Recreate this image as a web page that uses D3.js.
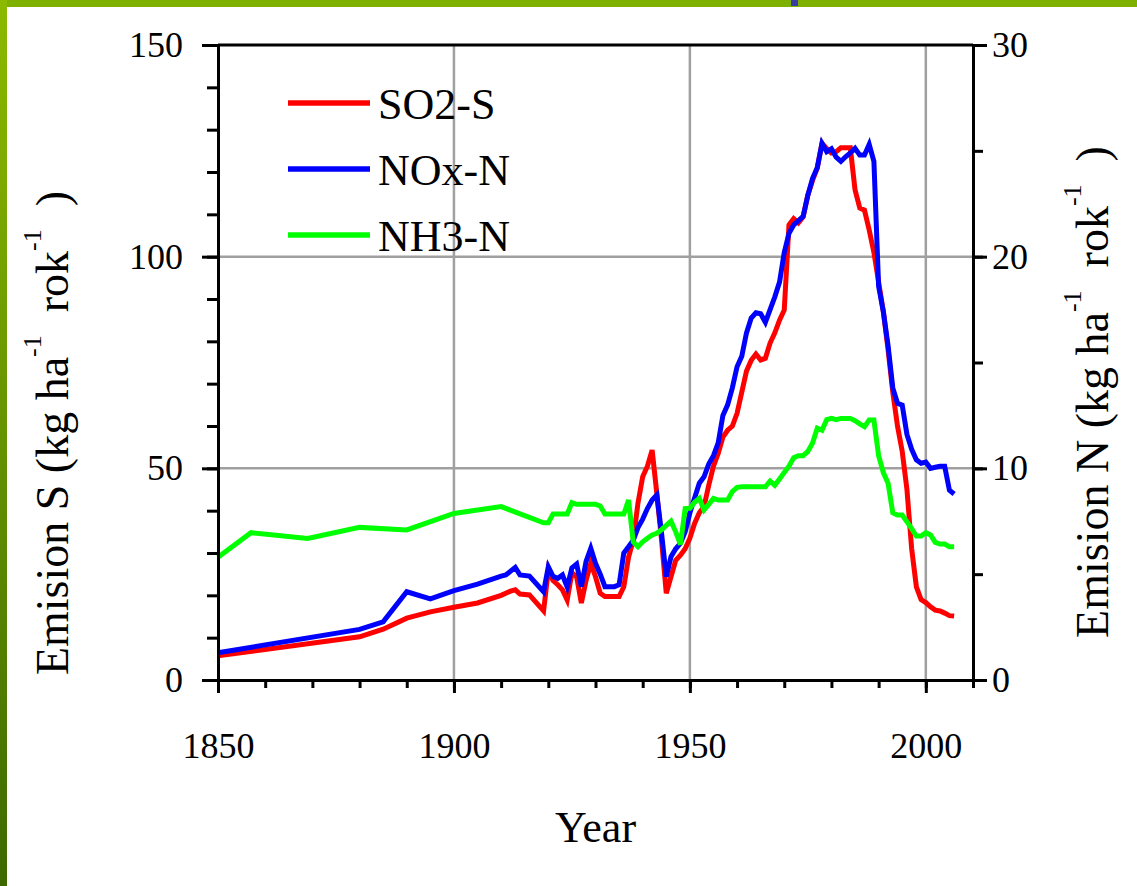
<!DOCTYPE html>
<html>
<head>
<meta charset="utf-8">
<script src="https://cdn.jsdelivr.net/npm/d3@7"></script>
<style>
  body { margin: 0; background: #fff; }
  svg { display: block; font-family: "Liberation Serif", "Times New Roman", serif; }
</style>
</head>
<body>
<svg id="chart" width="1137" height="886"></svg>
<script>
// SO2-S in kg S/ha/yr (left axis)
const so2 = [
  [1850, 5.7], [1880, 10.2], [1885, 12.0], [1890, 14.6], [1895, 16.1], [1900, 17.2], [1905, 18.2],
  [1910, 20.0], [1912, 21.0], [1913, 21.3], [1914, 20.3], [1916, 20.1], [1919, 16.3], [1920, 26.0],
  [1921, 23.5], [1922, 22.5], [1923, 21.3], [1924, 18.9], [1925, 25.3], [1926, 24.4], [1927, 18.2],
  [1928, 23.5], [1929, 27.6], [1930, 24.4], [1931, 20.5], [1932, 19.7], [1933, 19.7], [1934, 19.7],
  [1935, 19.7], [1936, 22.0], [1937, 29.0], [1938, 33.0], [1939, 41.8], [1940, 48.0], [1941, 50.5],
  [1942, 54.3], [1943, 44.0], [1944, 33.0], [1945, 20.5], [1946, 24.4], [1947, 28.3], [1948, 29.5],
  [1949, 31.0], [1950, 33.5], [1951, 37.0], [1952, 39.5], [1953, 41.0], [1954, 46.0], [1955, 50.5],
  [1956, 53.5], [1957, 57.4], [1958, 59.0], [1959, 60.0], [1960, 63.0], [1961, 68.0], [1962, 73.0],
  [1963, 75.5], [1964, 77.0], [1965, 75.6], [1966, 76.0], [1967, 79.6], [1968, 82.0], [1969, 85.0],
  [1970, 87.4], [1971, 107.5], [1972, 109.0], [1973, 108.0], [1974, 109.4], [1975, 114.6], [1976, 118.0],
  [1977, 121.0], [1978, 126.8], [1979, 125.5], [1980, 124.5], [1981, 124.8], [1982, 125.7], [1983, 125.7],
  [1984, 125.7], [1985, 115.8], [1986, 111.5], [1987, 111.0], [1988, 106.3], [1989, 101.0], [1990, 94.0],
  [1991, 87.0], [1992, 78.0], [1993, 68.0], [1994, 60.0], [1995, 54.0], [1996, 45.0], [1997, 31.0],
  [1998, 22.0], [1999, 19.0], [2000, 18.3], [2001, 17.3], [2002, 16.5], [2003, 16.3], [2004, 15.8],
  [2005, 15.2], [2006, 15.1]
];

// NOx-N in kg N/ha/yr (right axis)
const nox = [
  [1850, 1.29], [1880, 2.39], [1885, 2.75], [1890, 4.17], [1895, 3.83], [1900, 4.22], [1905, 4.53],
  [1910, 4.91], [1911, 4.96], [1913, 5.32], [1914, 4.96], [1916, 4.91], [1919, 4.17], [1920, 5.35],
  [1921, 4.9], [1922, 4.8], [1923, 4.96], [1924, 4.39], [1925, 5.3], [1926, 5.48], [1927, 4.41],
  [1928, 5.6], [1929, 6.22], [1930, 5.51], [1931, 5.0], [1932, 4.41], [1933, 4.41], [1934, 4.41],
  [1935, 4.5], [1936, 6.0], [1937, 6.3], [1938, 6.6], [1939, 7.2], [1940, 7.6], [1941, 8.1],
  [1942, 8.5], [1943, 8.74], [1944, 6.93], [1945, 4.88], [1946, 5.83], [1947, 6.2], [1948, 6.46],
  [1949, 7.0], [1950, 7.9], [1951, 8.6], [1952, 9.3], [1953, 9.6], [1954, 10.2], [1955, 10.6],
  [1956, 11.2], [1957, 12.5], [1958, 13.0], [1959, 13.8], [1960, 14.8], [1961, 15.3], [1962, 16.4],
  [1963, 17.1], [1964, 17.35], [1965, 17.3], [1966, 16.9], [1967, 17.5], [1968, 18.1], [1969, 18.8],
  [1970, 20.2], [1971, 21.1], [1972, 21.5], [1973, 21.7], [1974, 21.9], [1975, 22.9], [1976, 23.7],
  [1977, 24.2], [1978, 25.35], [1979, 24.96], [1980, 25.1], [1981, 24.7], [1982, 24.5], [1983, 24.72],
  [1984, 24.9], [1985, 25.12], [1986, 24.8], [1987, 24.8], [1988, 25.3], [1989, 24.5], [1990, 18.6],
  [1991, 17.4], [1992, 15.8], [1993, 13.8], [1994, 13.07], [1995, 12.99], [1996, 11.6], [1997, 10.9],
  [1998, 10.4], [1999, 10.24], [2000, 10.3], [2001, 10.0], [2002, 10.05], [2003, 10.1], [2004, 10.1],
  [2005, 8.97], [2006, 8.79]
];

// NH3-N in kg N/ha/yr (right axis)
const nh3 = [
  [1850, 5.8], [1857, 6.96], [1869, 6.69], [1880, 7.21], [1890, 7.09], [1900, 7.87], [1910, 8.19],
  [1919, 7.43], [1920, 7.43], [1921, 7.84], [1922, 7.84], [1923, 7.84], [1924, 7.84], [1925, 8.38],
  [1926, 8.3], [1927, 8.3], [1928, 8.3], [1929, 8.3], [1930, 8.3], [1931, 8.22], [1932, 7.84],
  [1933, 7.84], [1934, 7.84], [1935, 7.84], [1936, 7.84], [1937, 8.5], [1938, 6.53], [1939, 6.3],
  [1940, 6.53], [1941, 6.7], [1942, 6.85], [1943, 6.93], [1944, 7.1], [1945, 7.3], [1946, 7.5],
  [1947, 7.0], [1948, 6.4], [1949, 8.1], [1950, 8.11], [1951, 8.4], [1952, 8.58], [1953, 8.03],
  [1954, 8.3], [1955, 8.58], [1956, 8.5], [1957, 8.5], [1958, 8.5], [1959, 8.9], [1960, 9.1],
  [1961, 9.13], [1962, 9.13], [1963, 9.13], [1964, 9.13], [1965, 9.13], [1966, 9.13], [1967, 9.4],
  [1968, 9.2], [1969, 9.5], [1970, 9.8], [1971, 10.1], [1972, 10.5], [1973, 10.6], [1974, 10.6],
  [1975, 10.8], [1976, 11.2], [1977, 11.9], [1978, 11.8], [1979, 12.3], [1980, 12.36], [1981, 12.3],
  [1982, 12.36], [1983, 12.36], [1984, 12.36], [1985, 12.25], [1986, 12.1], [1987, 11.97], [1988, 12.28],
  [1989, 12.28], [1990, 10.6], [1991, 9.8], [1992, 9.3], [1993, 7.9], [1994, 7.79], [1995, 7.79],
  [1996, 7.48], [1997, 7.15], [1998, 6.8], [1999, 6.8], [2000, 6.96], [2001, 6.85], [2002, 6.5],
  [2003, 6.42], [2004, 6.42], [2005, 6.3], [2006, 6.3]
];

const seriesNames = ["SO2-S", "NOx-N", "NH3-N"];
const seriesColors = ["#ff0000", "#0000ff", "#00ff00"];

const yearTicksMajor = [1850, 1900, 1950, 2000];
const yearTicksMinor = d3.range(1850, 2011, 10);
const sTicksMajor = [0, 50, 100, 150];
const sTicksMinor = d3.range(0, 151, 10);
const nTicksMajor = [0, 10, 20, 30];
const nTicksMinor = d3.range(0, 31, 5);

const svg = d3.select("#chart");
const W = 1137, H = 886;
const mLeft = 218, mRight = 973, mTop = 45, mBottom = 680;

const x = d3.scaleLinear().domain([1850, 2010]).range([mLeft, mRight]);
const yS = d3.scaleLinear().domain([0, 150]).range([mBottom, mTop]);
const yN = d3.scaleLinear().domain([0, 30]).range([mBottom, mTop]);

// --- slide border ---
const defs = svg.append("defs");
const grad = defs.append("linearGradient").attr("id", "sidebar")
  .attr("x1", 0).attr("y1", 0).attr("x2", 0).attr("y2", 1);
grad.append("stop").attr("offset", "0%").attr("stop-color", "#8cba00");
grad.append("stop").attr("offset", "100%").attr("stop-color", "#3d6a00");

svg.append("rect").attr("width", W).attr("height", H).attr("fill", "#fff");
svg.append("rect").attr("width", W).attr("height", 7).attr("fill", "#7eb000");
svg.append("rect").attr("width", 7).attr("height", H).attr("fill", "url(#sidebar)");
svg.append("rect").attr("x", 791).attr("width", 7).attr("height", 6).attr("fill", "#3b3ba8");

// --- grid ---
const grid = svg.append("g").attr("stroke", "#a0a0a0").attr("stroke-width", 2.5);
grid.selectAll(".gx").data([1900, 1950, 2000]).enter().append("line")
  .attr("x1", d => x(d)).attr("x2", d => x(d)).attr("y1", mTop).attr("y2", mBottom);
grid.selectAll(".gy").data([50, 100]).enter().append("line")
  .attr("x1", mLeft).attr("x2", mRight).attr("y1", d => yS(d)).attr("y2", d => yS(d));

// --- lines ---
const lineS = d3.line().x(d => x(d[0])).y(d => yS(d[1]));
const lineN = d3.line().x(d => x(d[0])).y(d => yN(d[1]));
const plots = [[so2, lineS], [nox, lineN], [nh3, lineN]];
plots.forEach(([data, gen], i) => {
  svg.append("path").datum(data)
    .attr("fill", "none")
    .attr("stroke", seriesColors[i])
    .attr("stroke-width", 5)
    .attr("stroke-linejoin", "miter")
    .attr("d", gen);
});

// --- axes ---
function styleAxis(g, fontSize) {
  g.selectAll("path.domain").attr("stroke", "#000").attr("stroke-width", 3);
  g.selectAll(".tick line").attr("stroke", "#000").attr("stroke-width", 3);
  g.selectAll("text").attr("fill", "#000").attr("font-size", fontSize)
    .attr("font-family", "'Liberation Serif', 'Times New Roman', serif");
}

const xMinor = svg.append("g").attr("transform", `translate(0,${mBottom})`)
  .call(d3.axisBottom(x).tickValues(yearTicksMinor).tickSize(8).tickSizeOuter(0).tickFormat(""));
styleAxis(xMinor, 36);
const xMajor = svg.append("g").attr("transform", `translate(0,${mBottom})`)
  .call(d3.axisBottom(x).tickValues(yearTicksMajor).tickSize(13).tickSizeOuter(0).tickPadding(39).tickFormat(d3.format("d")));
styleAxis(xMajor, 36);

const ySMinor = svg.append("g").attr("transform", `translate(${mLeft},0)`)
  .call(d3.axisLeft(yS).tickValues(sTicksMinor).tickSize(11).tickSizeOuter(0).tickFormat(""));
styleAxis(ySMinor, 36);
const ySMajor = svg.append("g").attr("transform", `translate(${mLeft},0)`)
  .call(d3.axisLeft(yS).tickValues(sTicksMajor).tickSize(16).tickSizeOuter(0).tickPadding(19));
styleAxis(ySMajor, 36);

const yNMinor = svg.append("g").attr("transform", `translate(${mRight},0)`)
  .call(d3.axisRight(yN).tickValues(nTicksMinor).tickSize(10).tickSizeOuter(0).tickFormat(""));
styleAxis(yNMinor, 36);
const yNMajor = svg.append("g").attr("transform", `translate(${mRight},0)`)
  .call(d3.axisRight(yN).tickValues(nTicksMajor).tickSize(14).tickSizeOuter(0).tickPadding(5));
styleAxis(yNMajor, 36);

// top frame line
svg.append("line").attr("x1", mLeft).attr("x2", mRight).attr("y1", mTop).attr("y2", mTop)
  .attr("stroke", "#000").attr("stroke-width", 3);

// --- axis titles ---
svg.append("text").attr("x", (mLeft + mRight) / 2).attr("y", 842)
  .attr("text-anchor", "middle").attr("font-size", 44).text("Year");

function unitTitle(tx, ty, main) {
  const t = svg.append("text")
    .attr("transform", `translate(${tx},${ty}) rotate(-90)`)
    .attr("text-anchor", "middle").attr("font-size", 46)
    .attr("xml:space", "preserve");
  t.append("tspan").text(main + " (kg ha");
  t.append("tspan").attr("font-size", 26).attr("dy", -27).text("-1");
  t.append("tspan").attr("dy", 27).text("  rok");
  t.append("tspan").attr("font-size", 26).attr("dy", -27).text("-1");
  t.append("tspan").attr("dy", 27).text("  )");
}
unitTitle(68, 433, "Emision S");
unitTitle(1108, 392, "Emision N");

// --- legend ---
const legend = svg.append("g");
seriesNames.forEach((name, i) => {
  const ly = 103 + i * 66;
  legend.append("line").attr("x1", 288).attr("x2", 370).attr("y1", ly).attr("y2", ly)
    .attr("stroke", seriesColors[i]).attr("stroke-width", 5.5);
  legend.append("text").attr("x", 378).attr("y", ly + 16)
    .attr("font-size", 44).text(name);
});
</script>
</body>
</html>
